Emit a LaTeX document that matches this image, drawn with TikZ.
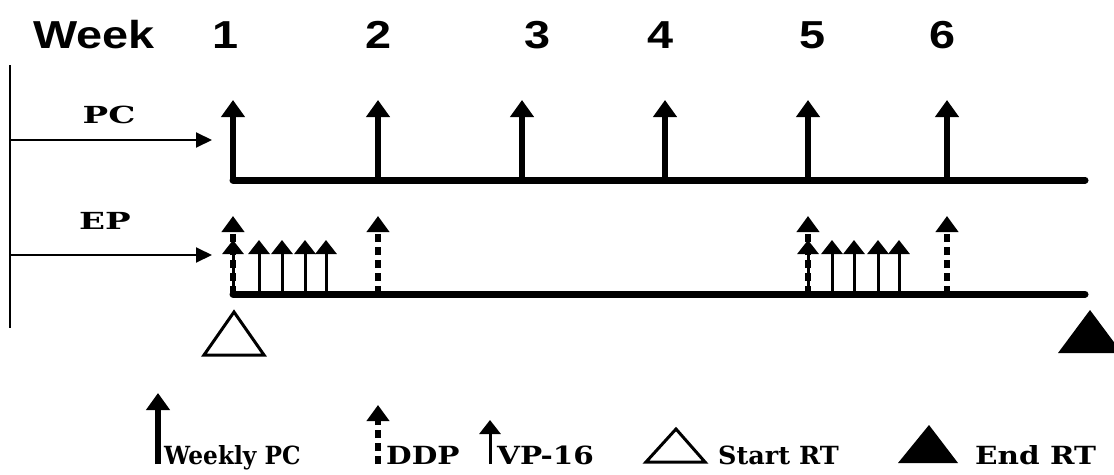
\documentclass[tikz,border=0pt]{standalone}
\usepackage{fontspec}
\usetikzlibrary{arrows.meta}
\newfontfamily\weekfont{Liberation Sans}[FakeStretch=1.2]
\newfontfamily\legfont{DejaVu Serif}[FakeStretch=1.02]
\newfontfamily\legwide{DejaVu Serif}[FakeStretch=1.18]
\newfontfamily\legnarrow{DejaVu Serif}[FakeStretch=0.93]
\newfontfamily\lblfont{DejaVu Serif}[FakeStretch=1.45]
\begin{document}
\begin{tikzpicture}[x=1pt,y=-1pt,
  thickarrow/.style={line width=6.5pt,-{Triangle[length=17pt,width=23pt]}},
  thinarrow/.style={line width=3pt,-{Triangle[length=14pt,width=21pt]}},
  dasharrow/.style={line width=6pt,dash pattern=on 8pt off 5pt,-{Triangle[length=16pt,width=22pt]}},
  baseline/.style={line width=7pt,line cap=round},
  inarrow/.style={line width=2pt,-{Triangle[length=16pt,width=15pt]}},
  weektxt/.style={font=\weekfont\bfseries\fontsize{39}{40}\selectfont,anchor=base,inner sep=0pt},
  lbl/.style={font=\lblfont\bfseries\fontsize{23.5}{25}\selectfont,anchor=base,inner sep=0pt},
  legtxt/.style={font=\legfont\bfseries\fontsize{25}{27}\selectfont,anchor=base west,inner sep=0pt},
  legtxtw/.style={legtxt,font=\legwide\bfseries\fontsize{25}{27}\selectfont},
  legtxtn/.style={legtxt,font=\legnarrow\bfseries\fontsize{25}{27}\selectfont},
  tri/.style={line width=3pt,line join=miter}]
\useasboundingbox (0,0) rectangle (1114,474);
% header
\node[weektxt,anchor=base west] (week) at (33,48) {Week};
\foreach \n/\x in {1/226,2/379,3/538,4/661,5/813,6/943}
  \node[weektxt] (w\n) at (\x,48) {\n};
% left line and input arrows
\coordinate (lt) at (10,65);
\coordinate (lb) at (10,328);
\draw[line width=1.5pt] (lt) -- (lb);
\coordinate (pcs) at (10,140);
\coordinate (pce) at (212,140);
\coordinate (eps) at (10,255);
\coordinate (epe) at (212,255);
\draw[inarrow] (pcs) -- (pce);
\draw[inarrow] (eps) -- (epe);
\node[lbl] (pc) at (109,123) {PC};
\node[lbl] (ep) at (105,229) {EP};
% PC line
\coordinate (pc0) at (233,180);
\coordinate (pc1) at (1085,180);
\draw[baseline] (pc0) -- (pc1);
\foreach \i/\x in {1/233,2/378,3/522,4/665,5/808,6/947}{
  \coordinate (pa\i) at (\x,180);
  \coordinate (pt\i) at (\x,100);
  \draw[thickarrow] (pa\i) -- (pt\i);
}
% EP line
\coordinate (ep0) at (233,294);
\coordinate (ep1) at (1085,294);
\draw[baseline] (ep0) -- (ep1);
\foreach \i/\x in {1/233,2/378,5/808,6/947}{
  \coordinate (da\i) at (\x,294);
  \coordinate (dt\i) at (\x,216);
  \draw[dasharrow] (da\i) -- (dt\i);
}
\foreach \i/\x in {1/233,2/259,3/282,4/305,5/326,6/808,7/832,8/854,9/878,10/899}{
  \coordinate (va\i) at (\x,294);
  \coordinate (vt\i) at (\x,240);
  \draw[thinarrow] (va\i) -- (vt\i);
}
% RT triangles
\draw[tri] (204,355) -- (264,355) -- (234,312) -- cycle;
\fill (1058,353) -- (1122,353) -- (1090,310) -- cycle;
% legend
\coordinate (l1a) at (158,464); \coordinate (l1t) at (158,393);
\draw[thickarrow] (l1a) -- (l1t);
\node[legtxtn] (lwpc) at (164,464) {Weekly PC};
\coordinate (l2a) at (378,464); \coordinate (l2t) at (378,405);
\draw[dasharrow] (l2a) -- (l2t);
\node[legtxtw] (lddp) at (386,464) {DDP};
\coordinate (l3a) at (490,464); \coordinate (l3t) at (490,420);
\draw[thinarrow] (l3a) -- (l3t);
\node[legtxtw] (lvp) at (497,464) {VP-16};
\draw[tri] (646,462) -- (705,462) -- (676,429) -- cycle;
\node[legtxt] (lsrt) at (718,464) {Start RT};
\fill (898,463) -- (958,463) -- (929,425) -- cycle;
\node[legtxtw] (lert) at (975,464) {End RT};
\end{tikzpicture}
\end{document}
